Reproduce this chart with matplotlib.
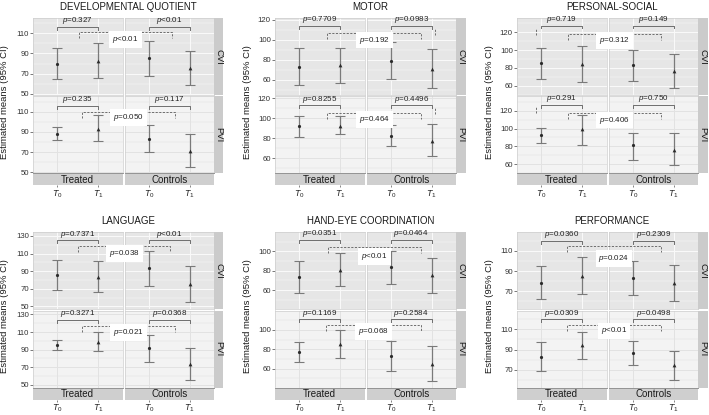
import matplotlib.pyplot as plt
from matplotlib.lines import Line2D

plt.rcParams['font.family'] = 'Liberation Sans'
plt.rcParams['mathtext.fontset'] = 'custom'
plt.rcParams['mathtext.rm'] = 'Liberation Sans'
plt.rcParams['mathtext.it'] = 'Liberation Sans:italic'

titles = ['DEVELOPMENTAL QUOTIENT', 'MOTOR', 'PERSONAL-SOCIAL',
          'LANGUAGE', 'HAND-EYE COORDINATION', 'PERFORMANCE']
groups = ['Treated', 'Controls']
cohorts = ['CVI', 'PVI']
times = [r'$T_0$', r'$T_1$']

# order: CVI-Treated T0,T1 / CVI-Controls T0,T1 / PVI-Treated T0,T1 / PVI-Controls T0,T1
dq_mean = [80, 82.7, 85.7, 76, 88.3, 93.3, 83.3, 71.7]
dq_low = [65, 66, 68, 59, 81.7, 81, 70, 55.7]
dq_high = [95, 100, 102.3, 92.7, 95, 106.7, 96.7, 87.7]
dq_p_time = ['=0.327', '<0.01', '=0.235', '=0.117']
dq_p_group = ['<0.01', '=0.050']

motor_mean = [73.3, 75, 79.3, 71, 92, 92.7, 82.7, 77.7]
motor_low = [54.7, 56.7, 60.7, 51.7, 81, 84.3, 72.7, 62.3]
motor_high = [91.7, 92.3, 98.3, 91, 102.7, 102, 93.3, 94.3]
motor_p_time = ['=0.7709', '=0.0983', '=0.8255', '=0.4496']
motor_p_group = ['=0.192', '=0.464']

ps_mean = [85.3, 84.2, 82.7, 76.7, 92.5, 99, 81.2, 76]
ps_low = [67.4, 64.4, 64.8, 57.3, 83.4, 82, 64.8, 59.5]
ps_high = [102.8, 104, 99.5, 95.4, 101, 115.5, 95.4, 94.6]
ps_p_time = ['=0.719', '=0.149', '=0.291', '=0.750']
ps_p_group = ['=0.312', '=0.406']

lang_mean = [85.6, 83.8, 93.9, 75.5, 95, 99, 91.5, 73.5]
lang_low = [68.7, 66.5, 72.9, 54.8, 90, 89, 76.5, 56]
lang_high = [102.6, 101.4, 113, 96.2, 100.5, 110, 106.5, 91.5]
lang_p_time = ['=0.7371', '<0.01', '=0.3271', '=0.0368']
lang_p_group = ['=0.038', '=0.021']

he_mean = [73.1, 81, 83.4, 75.2, 77, 85, 73, 65]
he_low = [56.6, 63.8, 65.9, 56.9, 67, 71, 58, 47]
he_high = [89.7, 97.9, 100.7, 92.8, 87.5, 99.5, 88.5, 83]
he_p_time = ['=0.0351', '=0.0464', '=0.1169', '=0.2584']
he_p_group = ['<0.01', '=0.068']

perf_mean = [78.5, 85.5, 83, 78, 83, 94, 86.5, 74.5]
perf_low = [62.5, 67, 66, 60, 69, 81, 75, 60]
perf_high = [94.5, 104, 99.5, 96, 97, 107.5, 98, 89]
perf_p_time = ['=0.0360', '=0.2309', '=0.0309', '=0.0498']
perf_p_group = ['=0.024', '<0.01']

means = [dq_mean, motor_mean, ps_mean, lang_mean, he_mean, perf_mean]
lows = [dq_low, motor_low, ps_low, lang_low, he_low, perf_low]
highs = [dq_high, motor_high, ps_high, lang_high, he_high, perf_high]
p_time = [dq_p_time, motor_p_time, ps_p_time, lang_p_time, he_p_time, perf_p_time]
p_group = [dq_p_group, motor_p_group, ps_p_group, lang_p_group, he_p_group, perf_p_group]

# axis scales per outcome
y_major = [[50, 70, 90, 110], [60, 80, 100, 120], [60, 80, 100, 120],
           [50, 70, 90, 110, 130], [60, 80, 100], [70, 90, 110]]
y_lim = [(49, 125), (45, 122), (49.5, 136), (47, 134.5), (40.5, 120), (52.5, 128.5)]

# annotation placement (data units): solid bracket y, dashed bracket y, label y, dashed x start/end
solid_y = [(116, 116), (114, 113.3), (127.5, 126.3), (125, 123.6), (111.7, 111), (119.5, 119.8)]
dash_y = [(111, 110), (106.7, 105), (118, 117), (118.3, 116.8), (104, 105.2), (114.3, 114.3)]
lab_y = [(104, 104), (100, 98.7), (110.7, 109.6), (110, 109.3), (94.8, 98.3), (102.5, 108.4)]
dash_x = [((1.53, 1.57), (1.61, 1.63)), ((1.69, 1.74), (1.69, 1.74)), ((1.66, 1.68), (1.66, 1.68)),
          ((1.51, 1.53), (1.60, 1.65)), ((1.70, 1.74), (1.66, 1.73)), ((1.64, 1.68), (1.64, 1.68))]
# stray dashed ticks: (panel, row, facet, x, y0, y1)
extra_ticks = [(1, 0, 1, 2.09, 105, 111.7), (1, 1, 1, 2.09, 104.3, 111),
               (2, 0, 0, 0.86, 117, 124.5), (2, 1, 0, 0.86, 117, 125.6)]

W, H = 709, 415
fig = plt.figure(figsize=(W / 100, H / 100), dpi=100)


def box(x, y, w, h):
    return [x / W, 1 - (y + h) / H, w / W, h / H]


def to_fig(ax, x, y):
    return fig.transFigure.inverted().transform(ax.transData.transform((x, y)))


panel_left = [33, 275, 517]
panel_top = [18, 232]
fw, fh, gap, vgap, sw, sh = 89.5, 77, 2, 1.5, 9.5, 12
bg = ['#e6e6e6', '#f3f3f3']
grid_c = ['#fafafa', '#e2e2e2']
line_c = '#6e6e6e'

for k in range(6):
    x0 = panel_left[k % 3]
    y0 = panel_top[k // 3]
    axes = {}
    for r in range(2):
        for g in range(2):
            ax = fig.add_axes(box(x0 + g * (fw + gap), y0 + r * (fh + vgap), fw, fh))
            axes[r, g] = ax
            ax.set_facecolor(bg[r])
            ax.set_xlim(0.4, 2.6)
            ax.set_xticks([1, 2])
            ax.set_yticks(y_major[k])
            ax.set_yticks([v + 10 for v in y_major[k]] + [y_major[k][0] - 10], minor=True)
            ax.set_ylim(*y_lim[k])
            ax.grid(which='major', color=grid_c[r], lw=0.7)
            ax.grid(which='minor', axis='y', color=grid_c[r], lw=0.35)
            ax.set_axisbelow(True)
            for s in ax.spines.values():
                s.set_color('#cdcdcd')
                s.set_linewidth(0.5)
            ax.tick_params(axis='x', length=0, labelbottom=False)
            ax.tick_params(axis='y', which='minor', length=0)
            if g == 0:
                ax.tick_params(axis='y', length=2, width=0.5, color='#444444',
                               labelsize=5.6, pad=1, labelcolor='#333333')
            else:
                ax.tick_params(axis='y', length=0, labelleft=False)

            for t in range(2):
                i = r * 4 + g * 2 + t
                m = means[k][i]
                ax.errorbar(t + 1, m, yerr=[[m - lows[k][i]], [highs[k][i] - m]], fmt='none',
                            ecolor='#7a7a7a', elinewidth=0.9, capsize=3.4, capthick=0.8)
                ax.plot(t + 1, m, 'o' if t == 0 else '^', ms=2.3 if t == 0 else 2.7,
                        color='#2b2b2b', mec='none')

            # within-group bracket
            ys = solid_y[k][r]
            ax.plot([1, 1, 2, 2], [ys - 3, ys, ys, ys - 3], color=line_c, lw=0.7, clip_on=False)
            ax.annotate(r'$p$' + p_time[k][r * 2 + g], (1.5, ys), xytext=(0, 0.5),
                        textcoords='offset points', ha='center', va='bottom',
                        fontsize=5.8, color='#222222', annotation_clip=False)

        # right strip
        sax = fig.add_axes(box(x0 + 2 * fw + gap, y0 + r * (fh + vgap), sw, fh))
        sax.set_facecolor('#cbcbcb')
        sax.set_xticks([])
        sax.set_yticks([])
        for s in sax.spines.values():
            s.set_visible(False)
        sax.text(0.5, 0.5, cohorts[r], rotation=-90, ha='center', va='center',
                 fontsize=6.8, color='#1a1a1a', transform=sax.transAxes)

    # between-group dashed bracket across facets
    for r in range(2):
        yd = dash_y[k][r]
        xs, xe = dash_x[k][r]
        p1 = to_fig(axes[r, 0], xs, yd)
        p2 = to_fig(axes[r, 1], xe, yd)
        drop = 6 / H
        fig.add_artist(Line2D([p1[0], p1[0], p2[0], p2[0]], [p1[1] - drop, p1[1], p2[1], p2[1] - drop],
                              transform=fig.transFigure, color=line_c, lw=0.7, ls=(0, (2.2, 1.5))))
        ly = to_fig(axes[r, 0], xs, lab_y[k][r])[1]
        fig.text((p1[0] + p2[0]) / 2, ly, r'$p$' + p_group[k][r], ha='center', va='center',
                 fontsize=5.8, color='#222222',
                 bbox=dict(boxstyle='square,pad=0.35', fc='white', ec='none'))

    for (kk, r, g, xx, ya, yb) in extra_ticks:
        if kk == k:
            axes[r, g].plot([xx, xx], [ya, yb], color=line_c, lw=0.7, ls=(0, (2.2, 1.5)),
                            clip_on=False)

    # bottom strips with time labels
    for g in range(2):
        bax = fig.add_axes(box(x0 + g * (fw + gap), y0 + 2 * fh + vgap, fw, sh))
        bax.set_facecolor('#cfcfcf')
        bax.set_xlim(0.4, 2.6)
        bax.set_ylim(0, 1)
        bax.set_yticks([])
        bax.set_xticks([1, 2])
        bax.set_xticklabels(times)
        bax.tick_params(axis='x', length=1.5, width=0.5, color='#555555', labelsize=6.4,
                        pad=0.5, labelcolor='#222222')
        for name, s in bax.spines.items():
            s.set_visible(name == 'top')
        bax.spines['top'].set_color('#8a8a8a')
        bax.spines['top'].set_linewidth(0.6)
        bax.text(1.5, 0.45, groups[g], ha='center', va='center', fontsize=7, color='#1a1a1a')

    # title and y label
    fig.text((x0 + (2 * fw + gap + sw) / 2) / W, 1 - (y0 - 11) / H, titles[k], ha='center',
             va='center', fontsize=7, color='#1a1a1a')
    fig.text((x0 - 28) / W, 1 - (y0 + fh + vgap / 2 + 6) / H, 'Estimated means (95% CI)',
             rotation=90, ha='center', va='center', fontsize=6.8, color='#1a1a1a')

fig.savefig('out.png', dpi=100)
